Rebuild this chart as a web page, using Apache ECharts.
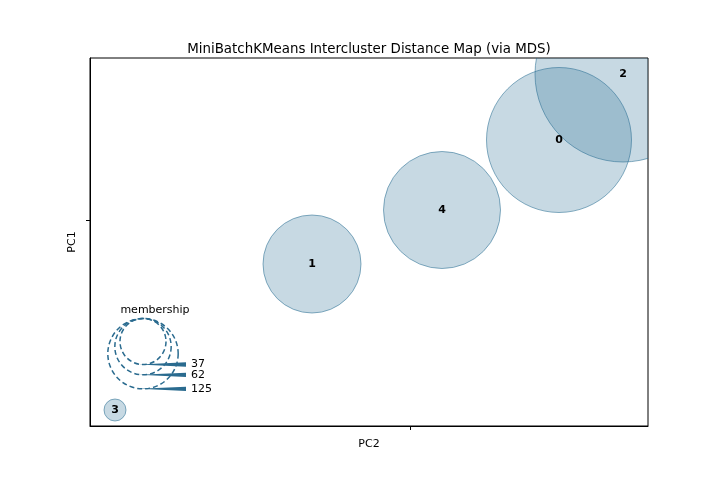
<!DOCTYPE html>
<html>
<head>
<meta charset="utf-8">
<script src="https://cdn.jsdelivr.net/npm/echarts@6/dist/echarts.min.js"></script>
<style>
html,body{margin:0;padding:0;background:#fff;}
#main{width:720px;height:480px;}
</style>
</head>
<body>
<div id="main"></div>
<script>
// cluster centers after MDS, radius in the same units
var clusterNames = ['0', '1', '2', '3', '4'];
var clusterX = [1.49, -0.98, 2.13, -2.95, 0.32];
var clusterY = [0.80, -0.44, 1.46, -1.90, 0.10];
var clusterRadius = [0.725, 0.49, 0.88, 0.11, 0.585];
// membership legend
var legendValues = [37, 62, 125];
// axis ranges (only one tick each, at 0)
var rangeX = [-3.20, 2.38];
var rangeY = [-2.06, 1.62];
var tickValues = [0];

var fillColor = 'rgba(40,110,145,0.26)';
var edgeColor = 'rgba(40,110,145,0.55)';
var legendColor = '#2a6b8f';
var fontName = 'DejaVu Sans';

function buildData(){
	var arr = [];
	for (var i = 0; i < clusterNames.length; i++) {
		arr.push([clusterX[i], clusterY[i], clusterRadius[i], clusterNames[i]]);
	}
	return arr;
}

// 圆
function renderCircle(params, api){
	var c = api.coord([api.value(0), api.value(1)]);
	var r = api.size([api.value(2), 0])[0];
	return {
		type: 'circle',
		shape: {cx: c[0], cy: c[1], r: r},
		style: {fill: fillColor, stroke: edgeColor, lineWidth: 1}
	};
}

// 标签
function renderLabel(params, api){
	var c = api.coord([api.value(0), api.value(1)]);
	return {
		type: 'text',
		style: {
			text: clusterNames[params.dataIndex],
			x: c[0], y: c[1],
			align: 'center', verticalAlign: 'middle',
			fontSize: 11, fontWeight: 'bold', fontFamily: fontName,
			fill: '#000'
		}
	};
}

// membership legend: dashed circles, top aligned, with a wedge to the label
function renderLegend(params, api){
	var cs = params.coordSys;
	var v = api.value(0);
	var r = 10 * Math.log(v) - 13.1;
	var cx = cs.x + 43;
	var top = cs.y + 18.5;
	var bottom = top + 2 * r;
	var endX = cx + 43;
	return {
		type: 'group',
		children: [
			{
				type: 'circle',
				shape: {cx: cx, cy: top + r, r: r},
				style: {fill: 'none', stroke: legendColor, lineWidth: 1.5, lineDash: [5, 3]}
			},
			{
				type: 'polygon',
				shape: {points: [[cx - 4, bottom], [endX, bottom - 2.2], [endX, bottom + 2.2]]},
				style: {fill: legendColor}
			},
			{
				type: 'text',
				style: {
					text: String(v), x: endX + 5, y: bottom,
					align: 'left', verticalAlign: 'middle',
					fontSize: 11, fontFamily: fontName, fill: '#000'
				}
			}
		]
	};
}

var myChart = echarts.init(document.getElementById('main'));
var data = buildData();
var option = {
	animation: false,
	backgroundColor: '#fff',
	title: {
		text: 'MiniBatchKMeans Intercluster Distance Map (via MDS)',
		left: 364,
		textAlign: 'center',
		top: 38,
		textStyle: {fontSize: 13.4, fontWeight: 'normal', fontFamily: fontName, color: '#000'}
	},
	graphic: [{
		type: 'text',
		x: 155, y: 310,
		style: {
			text: 'membership', align: 'center', verticalAlign: 'middle',
			fontSize: 11, fontFamily: fontName, fill: '#000'
		}
	}],
	grid: [
		{left: 90, top: 58, width: 558, height: 368, show: true, borderColor: '#000', borderWidth: 1},
		{left: 100, top: 300, width: 110, height: 100}
	],
	xAxis: [
		{
			type: 'value', gridIndex: 0, min: rangeX[0], max: rangeX[1],
			name: 'PC2', nameLocation: 'middle', nameGap: 13,
			nameTextStyle: {fontSize: 11, fontFamily: fontName, color: '#000'},
			axisLine: {show: true, onZero: false, lineStyle: {color: '#000'}},
			axisTick: {show: true, length: 4, customValues: tickValues, lineStyle: {color: '#000'}},
			axisLabel: {show: false},
			splitLine: {show: false}
		},
		{type: 'value', gridIndex: 1, min: 0, max: 110, show: false}
	],
	yAxis: [
		{
			type: 'value', gridIndex: 0, min: rangeY[0], max: rangeY[1],
			name: 'PC1', nameLocation: 'middle', nameGap: 12,
			nameTextStyle: {fontSize: 11, fontFamily: fontName, color: '#000'},
			axisLine: {show: true, onZero: false, lineStyle: {color: '#000'}},
			axisTick: {show: true, length: 4, customValues: tickValues, lineStyle: {color: '#000'}},
			axisLabel: {show: false},
			splitLine: {show: false}
		},
		{type: 'value', gridIndex: 1, min: 0, max: 100, show: false}
	],
	series: [
		{
			type: 'custom', xAxisIndex: 0, yAxisIndex: 0, clip: true,
			renderItem: renderCircle, data: data
		},
		{
			type: 'custom', xAxisIndex: 0, yAxisIndex: 0, clip: true,
			renderItem: renderLabel, data: data
		},
		{
			type: 'custom', xAxisIndex: 1, yAxisIndex: 1,
			renderItem: renderLegend, data: legendValues.map(function(v){ return [v]; })
		}
	]
};
myChart.setOption(option);
</script>
</body>
</html>
